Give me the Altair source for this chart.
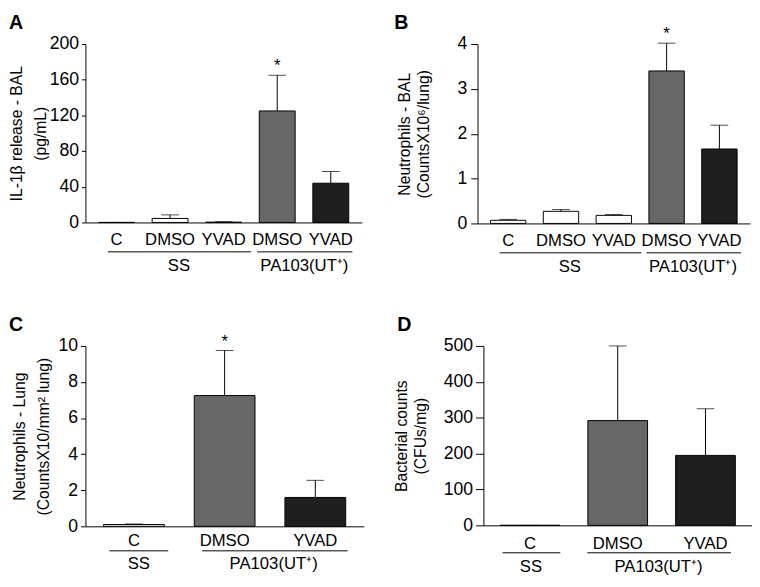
import altair as alt
import pandas as pd

FONT = "Liberation Sans"

# ---------------- data ----------------
# Panel A: IL-1beta release in BAL
a_keys = ["C|SS", "DMSO|SS", "YVAD|SS", "DMSO|PA", "YVAD|PA"]
a_mean = [0, 4.5, 0.3, 125, 44]
a_err = [0, 4, 0.5, 40, 13]
a_star = ["", "", "", "*", ""]

# Panel B: neutrophils in BAL
b_keys = ["C|SS", "DMSO|SS", "YVAD|SS", "DMSO|PA", "YVAD|PA"]
b_mean = [0.07, 0.27, 0.18, 3.4, 1.66]
b_err = [0.02, 0.04, 0.02, 0.62, 0.53]
b_star = ["", "", "", "*", ""]

# Panel C: neutrophils in lung
c_keys = ["C|SS", "DMSO|PA", "YVAD|PA"]
c_mean = [0.1, 7.25, 1.6]
c_err = [0.03, 2.5, 0.95]
c_star = ["", "*", ""]

# Panel D: bacterial counts
d_keys = ["C|SS", "DMSO|PA", "YVAD|PA"]
d_mean = [0, 292, 195]
d_err = [0, 208, 130]
d_star = ["", "", ""]

GROUP_SS = "SS"
GROUP_PA = "PA103(UT\u207a)"

WHITE, GRAY, BLACK = "#ffffff", "#676767", "#1f1f1f"


def panel(letter, keys, mean, err, star, fills, ytitle, ydomain, yvalues,
          width, height, st):
    df = pd.DataFrame({
        "key": keys,
        "mean": mean,
        "upper": [m + e for m, e in zip(mean, err)],
        "star": star,
    })
    xscale = alt.Scale(domain=keys, paddingInner=st["pi"], paddingOuter=st["po"])
    yscale = alt.Scale(domain=ydomain, nice=False)
    xaxis = alt.Axis(title=None, labelExpr="split(datum.label, '|')[0]",
                     ticks=False, labelAngle=0, labelPadding=st["lp"],
                     labelFontSize=17, labelColor="black", domainColor="black",
                     labelFont=FONT)
    yaxis = alt.Axis(values=yvalues, title=ytitle, grid=False,
                     tickSize=st["tick"], labelPadding=st["ylp"],
                     labelFontSize=18,
                     labelColor="black", tickColor="black", domainColor="black",
                     titleFontSize=16, titleFontWeight="normal",
                     titleColor="black", titleLineHeight=st["tlh"],
                     titlePadding=st["tp"], labelFont=FONT, titleFont=FONT)

    X = alt.X("key:N", sort=keys, scale=xscale, axis=xaxis)
    base = alt.Chart(df)
    bars = base.mark_bar(stroke="black", strokeWidth=1).encode(
        x=X,
        y=alt.Y("mean:Q", scale=yscale, axis=yaxis),
        fill=alt.Fill("key:N", scale=alt.Scale(domain=keys, range=fills),
                      legend=None),
    )
    stem = base.mark_rule(color="black", strokeWidth=1).encode(
        x=X, y=alt.Y("mean:Q", scale=yscale, axis=yaxis), y2="upper:Q")
    cap = base.mark_tick(color="black", size=18, thickness=1).encode(
        x=X, y=alt.Y("upper:Q", scale=yscale, axis=yaxis))
    stars = base.mark_text(fontSize=17, dy=-9, color="black", font=FONT).encode(
        x=X, y=alt.Y("upper:Q", scale=yscale, axis=yaxis), text="star:N")

    layers = [bars, stem, cap, stars]
    for g in st["groups"]:
        gdf = pd.DataFrame({"start": [g["start"]], "end": [g["end"]],
                            "mid": [g["mid"]], "label": [g["label"]]})
        gb = alt.Chart(gdf)
        layers.append(gb.mark_rule(color="black", strokeWidth=1,
                                   xOffset=g["o0"], x2Offset=g["o1"]).encode(
            x=alt.X("start:N", scale=xscale, axis=xaxis, bandPosition=0.5),
            x2=alt.X2("end:N", bandPosition=0.5),
            y=alt.value(height + st["ry"]),
        ))
        layers.append(gb.mark_text(fontSize=17, baseline="middle", dx=g["om"],
                                   color="black", font=FONT).encode(
            x=alt.X("mid:N", scale=xscale, axis=xaxis, bandPosition=0.5),
            y=alt.value(height + st["ty"]),
            text="label:N",
        ))

    ldf = pd.DataFrame({"letter": [letter]})
    layers.append(alt.Chart(ldf).mark_text(
        fontSize=20, fontWeight="bold", font=FONT, color="black",
        align="left", baseline="alphabetic").encode(
        x=alt.value(st["lx"]), y=alt.value(-15), text="letter:N"))

    return alt.layer(*layers).properties(width=width, height=height)


st_a = dict(pi=0.33, po=0.245, lp=10, tick=4, ylp=3, tlh=24, tp=1, ry=30,
            ty=45, lx=-78,
            groups=[
                dict(start="C|SS", end="YVAD|SS", mid="DMSO|SS", label=GROUP_SS,
                     o0=-8.8, o1=28, om=9),
                dict(start="DMSO|PA", end="YVAD|PA", mid="YVAD|PA",
                     label=GROUP_PA, o0=-20.5, o1=22, om=-27),
            ])
st_b = dict(st_a, tick=7, ylp=4, tlh=19, tp=26, lx=-85)
st_c = dict(pi=0.33, po=0.2, lp=7, tick=5, ylp=3, tlh=24, tp=7, ry=25,
            ty=39, lx=-78,
            groups=[
                dict(start="C|SS", end="C|SS", mid="C|SS", label=GROUP_SS,
                     o0=-25, o1=35, om=5),
                dict(start="DMSO|PA", end="YVAD|PA", mid="DMSO|PA",
                     label=GROUP_PA, o0=-23, o1=33, om=50),
            ])
st_d = dict(pi=0.32, po=0.19, lp=11, tick=8, ylp=3, tlh=19, tp=15, ry=28,
            ty=43, lx=-88,
            groups=[
                dict(start="C|SS", end="C|SS", mid="C|SS", label=GROUP_SS,
                     o0=-28, o1=31, om=1),
                dict(start="DMSO|PA", end="YVAD|PA", mid="YVAD|PA",
                     label=GROUP_PA, o0=-31, o1=26, om=-48),
            ])

pa = panel("A", a_keys, a_mean, a_err, a_star,
           [WHITE, WHITE, WHITE, GRAY, BLACK],
           ["IL-1\u03b2 release - BAL", "(pg/mL)"], [0, 200],
           [0, 40, 80, 120, 160, 200], 282, 182, st_a)
pb = panel("B", b_keys, b_mean, b_err, b_star,
           [WHITE, WHITE, WHITE, GRAY, BLACK],
           ["Neutrophils -  BAL", "(CountsX10\u2076/lung)"], [0, 4],
           [0, 1, 2, 3, 4], 278, 183, st_b)
pc = panel("C", c_keys, c_mean, c_err, c_star,
           [BLACK, GRAY, BLACK],
           ["Neutrophils -  Lung", "(CountsX10/mm\u00b2 lung)"], [0, 10],
           [0, 2, 4, 6, 8, 10], 284, 184, st_c)
pd_ = panel("D", d_keys, d_mean, d_err, d_star,
            [WHITE, GRAY, BLACK],
            ["Bacterial counts", "(CFUs/mg)"], [0, 500],
            [0, 100, 200, 300, 400, 500], 274, 183, st_d)

chart = alt.vconcat(
    alt.hconcat(pa, pb, spacing=33),
    alt.hconcat(pc, pd_, spacing=30),
    spacing=41,
).properties(
    padding={"left": 0, "top": 0, "right": 0, "bottom": 0}
).configure(font=FONT).configure_view(stroke=None)

chart.save("out.html", embed_options={"renderer": "svg", "actions": False})
